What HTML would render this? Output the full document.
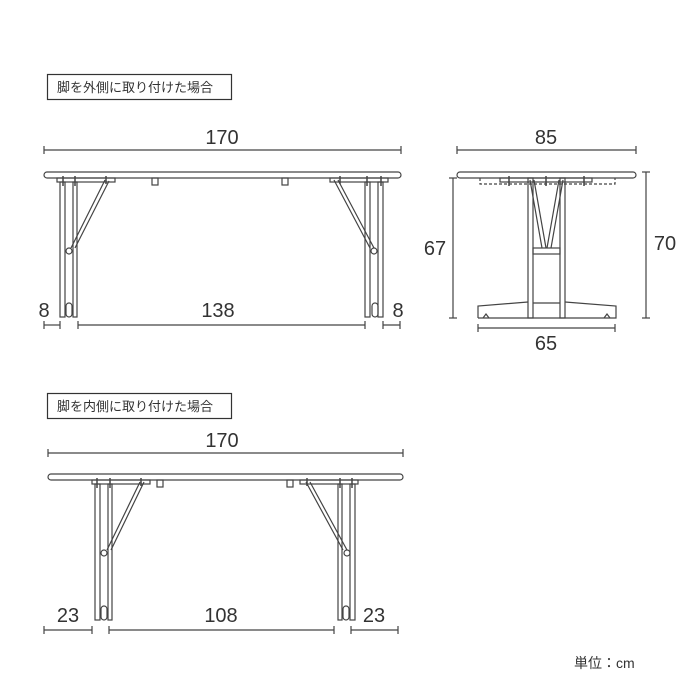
<!DOCTYPE html>
<html><head><meta charset="utf-8"><style>
body{margin:0;background:#fff}
svg{display:block}
text{font-family:"Liberation Sans","Noto Sans CJK JP",sans-serif;fill:#333}
.n{font-size:20px;font-weight:300;text-anchor:middle}
.l{font-size:13px}
</style></head><body>
<svg width="700" height="700" viewBox="0 0 700 700" fill="none" stroke="#444" stroke-width="1.2">
<!-- label boxes -->
<rect x="47.5" y="74.5" width="184" height="25" stroke="#333"/>
<text x="57" y="92" class="l" stroke="none">脚を外側に取り付けた場合</text>
<rect x="47.5" y="393.5" width="184" height="25" stroke="#333"/>
<text x="57" y="411" class="l" stroke="none">脚を内側に取り付けた場合</text>

<!-- view 1 -->
<g>
<line x1="44" y1="150" x2="401" y2="150"/><line x1="44" y1="146" x2="44" y2="154"/><line x1="401" y1="146" x2="401" y2="154"/>
<text x="222" y="144" class="n" stroke="none">170</text>
<rect x="44" y="172" width="357" height="6" rx="3"/>
<rect x="57" y="178" width="58" height="4"/><rect x="330" y="178" width="58" height="4"/>
<rect x="152" y="178" width="6" height="7"/><rect x="282" y="178" width="6" height="7"/>
<rect x="60" y="182" width="5" height="135"/><rect x="73" y="182" width="4" height="135"/>
<rect x="66" y="303" width="6" height="14" rx="3"/>
<rect x="365" y="182" width="5" height="135"/><rect x="378" y="182" width="5" height="135"/>
<rect x="372" y="303" width="6" height="14" rx="3"/>
<path d="M105 180 L71 248 M109 181 L75 248"/><circle cx="69" cy="251" r="3"/>
<path d="M334 180 L370 248 M338 180 L374 248"/><circle cx="374" cy="251" r="3"/>
<g stroke-width="1.5"><path d="M63 176v10M75 176v10M106 176v8M340 176v8M367 176v10M381 176v10"/></g>
<line x1="44" y1="325" x2="60" y2="325"/><line x1="44" y1="321" x2="44" y2="329"/><line x1="60" y1="321" x2="60" y2="329"/>
<text x="44" y="317" class="n" stroke="none">8</text>
<line x1="78" y1="325" x2="365" y2="325"/><line x1="78" y1="321" x2="78" y2="329"/><line x1="365" y1="321" x2="365" y2="329"/>
<text x="218" y="317" class="n" stroke="none">138</text>
<line x1="383" y1="325" x2="400" y2="325"/><line x1="383" y1="321" x2="383" y2="329"/><line x1="400" y1="321" x2="400" y2="329"/>
<text x="398" y="317" class="n" stroke="none">8</text>
</g>

<!-- side view -->
<g>
<line x1="457" y1="150" x2="636" y2="150"/><line x1="457" y1="146" x2="457" y2="154"/><line x1="636" y1="146" x2="636" y2="154"/>
<text x="546" y="144" class="n" stroke="none">85</text>
<rect x="457" y="172" width="179" height="6" rx="3"/>
<path d="M480 178v6h135v-6" stroke-dasharray="3 2"/>
<rect x="500" y="178" width="92" height="4"/>
<path d="M509 176v10M546 176v10M584 176v10" stroke-width="1.5"/>
<rect x="528" y="178" width="5" height="140"/><rect x="560" y="178" width="5" height="140"/>
<path d="M530 180 L542 248 M534 180 L546 248 M563 180 L551 248 M559 180 L547 248"/>
<rect x="533" y="248" width="27" height="6"/>
<path d="M533 303h27M478 318v-12 L528 302 M565 302 L616 306 V318 H478"/>
<path d="M483 318 l3 -4 l3 4 M604 318 l3 -4 l3 4"/>
<line x1="453" y1="178" x2="453" y2="318"/><line x1="449" y1="178" x2="457" y2="178"/><line x1="449" y1="318" x2="457" y2="318"/>
<text x="435" y="255" class="n" stroke="none">67</text>
<line x1="646" y1="172" x2="646" y2="318"/><line x1="642" y1="172" x2="650" y2="172"/><line x1="642" y1="318" x2="650" y2="318"/>
<text x="665" y="250" class="n" stroke="none">70</text>
<line x1="478" y1="328" x2="615" y2="328"/><line x1="478" y1="324" x2="478" y2="332"/><line x1="615" y1="324" x2="615" y2="332"/>
<text x="546" y="350" class="n" stroke="none">65</text>
</g>

<!-- view 2 -->
<g>
<line x1="48" y1="453" x2="403" y2="453"/><line x1="48" y1="449" x2="48" y2="457"/><line x1="403" y1="449" x2="403" y2="457"/>
<text x="222" y="447" class="n" stroke="none">170</text>
<rect x="48" y="474" width="355" height="6" rx="3"/>
<rect x="92" y="480" width="58" height="4"/><rect x="300" y="480" width="58" height="4"/>
<rect x="157" y="480" width="6" height="7"/><rect x="287" y="480" width="6" height="7"/>
<rect x="95" y="484" width="5" height="136"/><rect x="108" y="484" width="4" height="136"/>
<rect x="101" y="606" width="6" height="14" rx="3"/>
<rect x="338" y="484" width="4" height="136"/><rect x="350" y="484" width="5" height="136"/>
<rect x="343" y="606" width="6" height="14" rx="3"/>
<path d="M140 482 L107 550 M144 482 L111 550"/><circle cx="104" cy="553" r="3"/>
<path d="M306 482 L343 550 M310 482 L347 550"/><circle cx="347" cy="553" r="3"/>
<path d="M97 478v10M110 478v10M141 478v8M307 478v8M340 478v10M352 478v10" stroke-width="1.5"/>
<line x1="44" y1="630" x2="92" y2="630"/><line x1="44" y1="626" x2="44" y2="634"/><line x1="92" y1="626" x2="92" y2="634"/>
<text x="68" y="622" class="n" stroke="none">23</text>
<line x1="109" y1="630" x2="334" y2="630"/><line x1="109" y1="626" x2="109" y2="634"/><line x1="334" y1="626" x2="334" y2="634"/>
<text x="221" y="622" class="n" stroke="none">108</text>
<line x1="351" y1="630" x2="398" y2="630"/><line x1="351" y1="626" x2="351" y2="634"/><line x1="398" y1="626" x2="398" y2="634"/>
<text x="374" y="622" class="n" stroke="none">23</text>
</g>
<text x="574" y="668" class="l" stroke="none" style="font-size:14px">単位：cm</text>
</svg>
</body></html>
